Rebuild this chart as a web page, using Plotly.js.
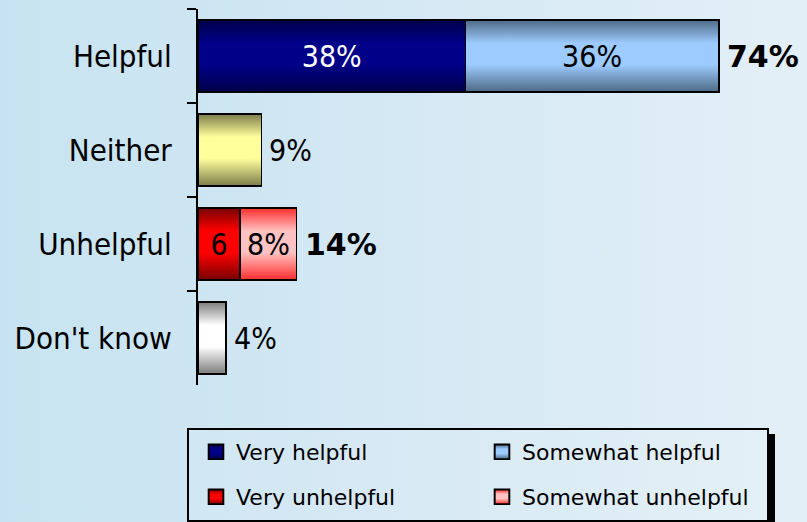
<!DOCTYPE html>
<html>
<head>
<meta charset="utf-8">
<script src="https://cdn.plot.ly/plotly-3.0.1.min.js"></script>
<style>
  html, body { margin: 0; padding: 0; }
  body { width: 807px; height: 522px; overflow: hidden;
         background: linear-gradient(to right, #c7e3f1 0%, #d3e8f3 45%, #e3eff7 100%); }
  #chart { width: 807px; height: 522px; }
</style>
</head>
<body>
<div id="chart"></div>
<script>
// ---- data ----
const categories = ['Helpful', 'Neither', 'Unhelpful', "Don't know"];
const veryHelpful       = [38, null, null, null];
const somewhatHelpful   = [36, null, null, null];
const neither           = [null, 9, null, null];
const veryUnhelpful     = [null, null, 6, null];
const somewhatUnhelpful = [null, null, 8, null];
const dontKnow          = [null, null, null, 4];
const seriesNames = ['Very helpful', 'Somewhat helpful', 'Neither', 'Very unhelpful', 'Somewhat unhelpful', "Don't know"];
const seriesValues = [veryHelpful, somewhatHelpful, neither, veryUnhelpful, somewhatUnhelpful, dontKnow];
const insideTemplates = ['%{x}%', '%{x}%', '', '%{x}', '%{x}%', ''];

// ---- style ----
const edgeColors   = ['#00004a', '#4d6985', '#7c7c4a', '#780000', '#ff2c2c', '#7c7c7c'];
const centerColors = ['#000088', '#9dcbff', '#ffff9c', '#ff0000', '#ffc2c2', '#ffffff'];
const insideFontColors = ['#ffffff', '#000000', '#000000', '#000000', '#000000', '#000000'];
const legendIds = ['legend', 'legend', null, 'legend2', 'legend2', null];
const labelFont = "'DejaVu Sans Condensed', 'Liberation Sans', sans-serif";

const L = 198, T = 9, PW = 563, PH = 376, W = 807, H = 522;
const px2x = px => (px - L) / PW;
const py2y = py => (T + PH - py) / PH;

const traces = seriesNames.map((name, i) => ({
  type: 'bar',
  orientation: 'h',
  name: name,
  y: categories,
  x: seriesValues[i],
  marker: { color: centerColors[i], line: { color: '#000000', width: 1.6 } },
  texttemplate: insideTemplates[i],
  textposition: insideTemplates[i] ? 'inside' : 'none',
  insidetextanchor: 'middle',
  insidetextfont: { family: labelFont, size: 30, color: insideFontColors[i] },
  showlegend: legendIds[i] !== null,
  legend: legendIds[i] || 'legend',
  hoverinfo: 'skip'
}));

// totals per category
const totals = categories.map((c, ci) => seriesValues.reduce((s, arr) => s + (arr[ci] || 0), 0));
const segCount = categories.map((c, ci) => seriesValues.filter(arr => arr[ci] != null).length);

const annotations = categories.map((c, ci) => ({
  x: totals[ci], y: c, xref: 'x', yref: 'y',
  text: segCount[ci] > 1 ? '<b>' + totals[ci] + '%</b>' : totals[ci] + '%',
  showarrow: false, xanchor: 'left', yanchor: 'middle', xshift: 6,
  font: segCount[ci] > 1
    ? { family: "'DejaVu Sans', sans-serif", size: 30, color: '#000' }
    : { family: labelFont, size: 30, color: '#000' }
}));

const shapes = [
  { type: 'rect', xref: 'paper', yref: 'paper', layer: 'below',
    x0: px2x(768), x1: px2x(775), y0: py2y(434), y1: py2y(523),
    fillcolor: '#000000', line: { width: 0 } },
  { type: 'rect', xref: 'paper', yref: 'paper', layer: 'below',
    x0: px2x(188), x1: px2x(768), y0: py2y(429), y1: py2y(521),
    fillcolor: 'rgba(255,255,255,0.08)', line: { color: '#000000', width: 2 } }
];

const legendCommon = {
  orientation: 'h', xanchor: 'left', yanchor: 'top',
  bgcolor: 'rgba(0,0,0,0)', borderwidth: 0,
  entrywidth: 241, entrywidthmode: 'pixels',
  font: { family: "'DejaVu Sans', sans-serif", size: 22, color: '#000' },
  traceorder: 'normal'
};

const layout = {
  width: W, height: H,
  margin: { l: L, r: W - L - PW, t: T, b: H - T - PH, pad: 0, autoexpand: false },
  paper_bgcolor: 'rgba(0,0,0,0)',
  plot_bgcolor: 'rgba(0,0,0,0)',
  barmode: 'stack',
  bargap: 0.234,
  xaxis: { range: [0, 80], visible: false, fixedrange: true },
  yaxis: {
    type: 'category', autorange: 'reversed',
    showline: true, linecolor: '#000', linewidth: 2,
    ticks: 'outside', tickson: 'boundaries', ticklen: 9, tickwidth: 2, tickcolor: '#000',
    ticklabelstandoff: 18,
    showgrid: false, zeroline: false,
    tickfont: { family: labelFont, size: 31, color: '#000' }
  },
  showlegend: true,
  legend: Object.assign({}, legendCommon, { x: px2x(196), y: py2y(431) }),
  legend2: Object.assign({}, legendCommon, { x: px2x(196), y: py2y(476) }),
  annotations: annotations,
  shapes: shapes
};

function applyGradients(gd) {
  const svg = gd.querySelector('svg.main-svg');
  const ns = 'http://www.w3.org/2000/svg';
  let defs = svg.querySelector('defs');
  if (!defs) { defs = document.createElementNS(ns, 'defs'); svg.insertBefore(defs, svg.firstChild); }
  seriesNames.forEach((n, i) => {
    const g = document.createElementNS(ns, 'linearGradient');
    g.setAttribute('id', 'bargrad' + i);
    g.setAttribute('x1', '0'); g.setAttribute('y1', '0');
    g.setAttribute('x2', '0'); g.setAttribute('y2', '1');
    [[0, edgeColors[i]], [0.32, centerColors[i]], [0.62, centerColors[i]], [1, edgeColors[i]]].forEach(s => {
      const st = document.createElementNS(ns, 'stop');
      st.setAttribute('offset', s[0]);
      st.setAttribute('stop-color', s[1]);
      g.appendChild(st);
    });
    defs.appendChild(g);
  });
  gd.querySelectorAll('.barlayer g.trace.bars').forEach(tr => {
    const d = tr.__data__;
    if (!d || !d[0] || !d[0].trace) return;
    const idx = d[0].trace.index;
    tr.querySelectorAll('g.point path').forEach(p => { p.style.fill = 'url(#bargrad' + idx + ')'; });
  });
  gd.querySelectorAll('.infolayer g.traces').forEach(tr => {
    const d = tr.__data__;
    if (!d || !d[0] || !d[0].trace) return;
    const idx = d[0].trace.index;
    tr.querySelectorAll('.legendpoints path').forEach(p => {
      p.style.fill = 'url(#bargrad' + idx + ')';
      p.style.stroke = '#000';
      p.style.strokeWidth = '1.6px';
      const t = p.getAttribute('transform') || '';
      p.setAttribute('transform', (t + ' scale(1.22)').trim());
    });
  });
}

Plotly.newPlot('chart', traces, layout, { displayModeBar: false, staticPlot: true })
  .then(gd => applyGradients(gd));
</script>
</body>
</html>
